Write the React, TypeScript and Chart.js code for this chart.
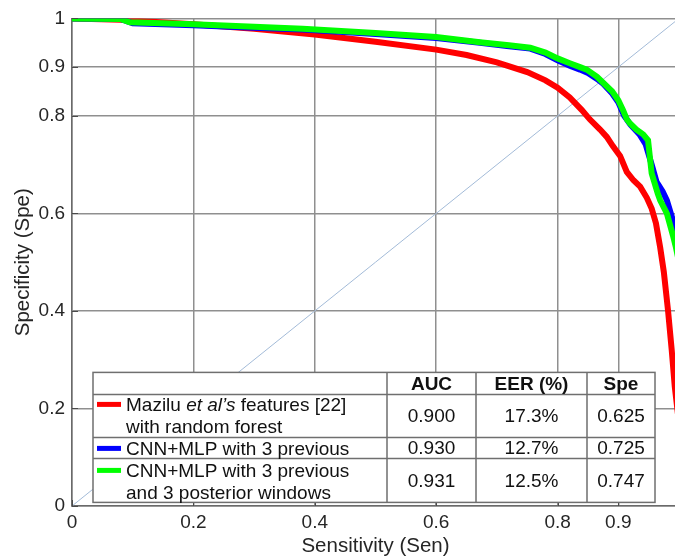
import React, { useEffect, useRef } from "react";
import { Chart, registerables } from "chart.js";

Chart.register(...registerables);

// ---- Data ----
const tickValues = [0, 0.2, 0.4, 0.6, 0.8, 0.9, 1];

const redSen = [0, 0.08, 0.2, 0.3, 0.4, 0.5, 0.6, 0.65, 0.7, 0.75, 0.78, 0.8, 0.82, 0.84, 0.853, 0.87, 0.881, 0.891, 0.903, 0.914, 0.925, 0.936, 0.947, 0.955, 0.962, 0.969, 0.975, 0.982, 0.988, 0.993, 1];
const redSpe = [1, 0.997, 0.988, 0.979, 0.967, 0.952, 0.936, 0.925, 0.91, 0.89, 0.873, 0.858, 0.838, 0.812, 0.793, 0.772, 0.757, 0.738, 0.718, 0.685, 0.668, 0.655, 0.632, 0.61, 0.58, 0.53, 0.48, 0.4, 0.32, 0.245, 0.17];

const blueSen = [0, 0.08, 0.1, 0.2, 0.3, 0.38, 0.5, 0.6, 0.672, 0.72, 0.755, 0.78, 0.8, 0.82, 0.837, 0.85, 0.865, 0.875, 0.89, 0.9, 0.91, 0.92, 0.935, 0.945, 0.955, 0.963, 0.973, 0.98, 0.99, 0.995, 1];
const blueSpe = [1, 0.999, 0.99, 0.986, 0.981, 0.977, 0.968, 0.96, 0.95, 0.943, 0.938, 0.927, 0.914, 0.903, 0.895, 0.888, 0.876, 0.866, 0.846, 0.828, 0.8, 0.782, 0.762, 0.742, 0.7, 0.665, 0.645, 0.627, 0.586, 0.565, 0.54];

const greenSen = [0, 0.08, 0.095, 0.2, 0.3, 0.38, 0.5, 0.6, 0.672, 0.72, 0.755, 0.78, 0.8, 0.82, 0.837, 0.848, 0.865, 0.875, 0.89, 0.9, 0.908, 0.914, 0.919, 0.93, 0.941, 0.949, 0.955, 0.965, 0.969, 0.98, 0.99, 0.995, 1];
const greenSpe = [1, 0.999, 0.992, 0.988, 0.983, 0.979, 0.97, 0.962, 0.951, 0.945, 0.94, 0.93, 0.918, 0.908, 0.9, 0.895, 0.88, 0.868, 0.85, 0.832, 0.811, 0.793, 0.785, 0.772, 0.762, 0.75, 0.682, 0.641, 0.627, 0.6, 0.555, 0.53, 0.5];

const diagSen = [0, 1];
const diagSpe = [0, 1];

const tableHeaders = ["AUC", "EER (%)", "Spe"];
const aucValues = ["0.900", "0.930", "0.931"];
const eerValues = ["17.3%", "12.7%", "12.5%"];
const speValues = ["0.625", "0.725", "0.747"];
const seriesColors = ["#ff0000", "#0000ff", "#00ff00"];

const FONT = "'Liberation Sans', Arial, Helvetica, sans-serif";
const TFS = 19;

const toPoints = (xs: number[], ys: number[]) => xs.map((x, i) => ({ x, y: ys[i] }));

const tablePlugin = {
  id: "rocTable",
  afterDatasetsDraw(chart: any) {
    const { ctx, chartArea } = chart;
    const xs = chart.scales.x;
    const ys = chart.scales.y;
    ctx.save();
    ctx.strokeStyle = "#4a4a4a";
    ctx.lineWidth = 1;
    tickValues.forEach((v) => {
      const px = Math.round(xs.getPixelForValue(v)) + 0.5;
      ctx.beginPath();
      ctx.moveTo(px, chartArea.bottom);
      ctx.lineTo(px, chartArea.bottom - 6);
      ctx.stroke();
      const py = Math.round(ys.getPixelForValue(v)) + 0.5;
      ctx.beginPath();
      ctx.moveTo(chartArea.left, py);
      ctx.lineTo(chartArea.left + 6, py);
      ctx.stroke();
    });
    ctx.restore();
  },
  afterDraw(chart: any) {
    const { ctx, chartArea } = chart;
    const L = chartArea.left + 21;
    const T = chartArea.top + 354;
    const R = L + 562;
    const rows = [T, T + 22, T + 65, T + 86, T + 130];
    const cols = [L, L + 294, L + 383, L + 494, R];
    ctx.save();
    ctx.fillStyle = "#ffffff";
    ctx.fillRect(L, T, R - L, rows[4] - T);
    ctx.strokeStyle = "#6f6f6f";
    ctx.lineWidth = 1.5;
    ctx.strokeRect(L, T, R - L, rows[4] - T);
    ctx.beginPath();
    rows.slice(1, 4).forEach((y) => {
      ctx.moveTo(L, y);
      ctx.lineTo(R, y);
    });
    cols.slice(1, 4).forEach((x) => {
      ctx.moveTo(x, T);
      ctx.lineTo(x, rows[4]);
    });
    ctx.stroke();

    ctx.fillStyle = "#111111";
    ctx.textBaseline = "middle";
    ctx.textAlign = "center";
    ctx.font = `bold ${TFS}px ${FONT}`;
    tableHeaders.forEach((h, i) => {
      ctx.fillText(h, (cols[i + 1] + cols[i + 2]) / 2, (rows[0] + rows[1]) / 2 + 1);
    });

    ctx.font = `${TFS}px ${FONT}`;
    const cols3 = [aucValues, eerValues, speValues];
    for (let r = 0; r < 3; r++) {
      const cy = (rows[r + 1] + rows[r + 2]) / 2 + 1;
      cols3.forEach((arr, c) => {
        ctx.fillText(arr[r], (cols[c + 1] + cols[c + 2]) / 2, cy);
      });
    }

    const swatchY = [rows[1] + 10, rows[2] + 11, rows[3] + 12];
    seriesColors.forEach((col, i) => {
      ctx.strokeStyle = col;
      ctx.lineWidth = 5;
      ctx.beginPath();
      ctx.moveTo(L + 4, swatchY[i]);
      ctx.lineTo(L + 28, swatchY[i]);
      ctx.stroke();
    });

    ctx.textAlign = "left";
    const tx = L + 33;
    let x = tx;
    ctx.font = `${TFS}px ${FONT}`;
    ctx.fillText("Mazilu ", x, swatchY[0] + 1);
    x += ctx.measureText("Mazilu ").width;
    ctx.font = `italic ${TFS}px ${FONT}`;
    ctx.fillText("et al\u2019s", x, swatchY[0] + 1);
    x += ctx.measureText("et al\u2019s").width;
    ctx.font = `${TFS}px ${FONT}`;
    ctx.fillText(" features [22]", x, swatchY[0] + 1);
    ctx.fillText("with random forest", tx, swatchY[0] + 23);
    ctx.fillText("CNN+MLP with 3 previous", tx, swatchY[1] + 1);
    ctx.fillText("CNN+MLP with 3 previous", tx, swatchY[2] + 1);
    ctx.fillText("and 3 posterior windows", tx, swatchY[2] + 23);
    ctx.restore();
  },
};

export default function App() {
  const ref = useRef<HTMLCanvasElement | null>(null);

  useEffect(() => {
    if (!ref.current) return;
    const lineDs = (label: string, xs: number[], ys: number[], color: string, width: number, order: number) => ({
      label,
      data: toPoints(xs, ys),
      showLine: true,
      borderColor: color,
      backgroundColor: color,
      borderWidth: width,
      pointRadius: 0,
      tension: 0,
      fill: false,
      order,
    });
    const chart = new Chart(ref.current, {
      type: "scatter",
      data: {
        datasets: [
          lineDs("Chance", diagSen, diagSpe, "#a3bbd8", 1, 4),
          lineDs("Mazilu et al's features [22] with random forest", redSen, redSpe, seriesColors[0], 6, 3),
          lineDs("CNN+MLP with 3 previous", blueSen, blueSpe, seriesColors[1], 6, 2),
          lineDs("CNN+MLP with 3 previous and 3 posterior windows", greenSen, greenSpe, seriesColors[2], 6, 1),
        ],
      },
      options: {
        animation: false,
        responsive: false,
        devicePixelRatio: 1,
        layout: { padding: { left: 0, top: 18, right: 21, bottom: 0 } },
        plugins: {
          legend: { display: false },
          tooltip: { enabled: false },
        },
        scales: {
          x: {
            type: "linear",
            min: 0,
            max: 1,
            afterBuildTicks: (s: any) => {
              s.ticks = tickValues.map((v) => ({ value: v }));
            },
            afterFit: (s: any) => {
              s.height = 51;
            },
            ticks: {
              autoSkip: false,
              maxRotation: 0,
              padding: 5,
              color: "#262626",
              font: { family: FONT, size: 19 },
              callback: (v: any) => String(v),
            },
            grid: { color: "#8f8f8f", lineWidth: 1.5, drawTicks: false },
            border: { display: true, color: "#6a6a6a", width: 1.5 },
            title: {
              display: true,
              text: "Sensitivity (Sen)",
              color: "#262626",
              font: { family: FONT, size: 20.5, lineHeight: 1.0 },
              padding: { top: 0, bottom: 0 },
            },
          },
          y: {
            type: "linear",
            min: 0,
            max: 1,
            afterBuildTicks: (s: any) => {
              s.ticks = tickValues.map((v) => ({ value: v }));
            },
            afterFit: (s: any) => {
              s.width = 72;
            },
            ticks: {
              autoSkip: false,
              padding: 7,
              color: "#262626",
              font: { family: FONT, size: 19 },
              callback: (v: any) => String(v),
            },
            grid: { color: "#8f8f8f", lineWidth: 1.5, drawTicks: false },
            border: { display: true, color: "#6a6a6a", width: 1.5 },
            title: {
              display: true,
              text: "Specificity (Spe)",
              color: "#262626",
              font: { family: FONT, size: 20.5, lineHeight: 1.2 },
              padding: { top: 11, bottom: 0 },
            },
          },
        },
      },
      plugins: [tablePlugin],
    } as any);
    return () => chart.destroy();
  }, []);

  return (
    <div
      style={{
        position: "fixed",
        left: 0,
        top: 0,
        width: 675,
        height: 557,
        overflow: "hidden",
        background: "#ffffff",
      }}
    >
      <canvas ref={ref} width={700} height={557} style={{ display: "block", width: 700, height: 557 }} />
    </div>
  );
}
